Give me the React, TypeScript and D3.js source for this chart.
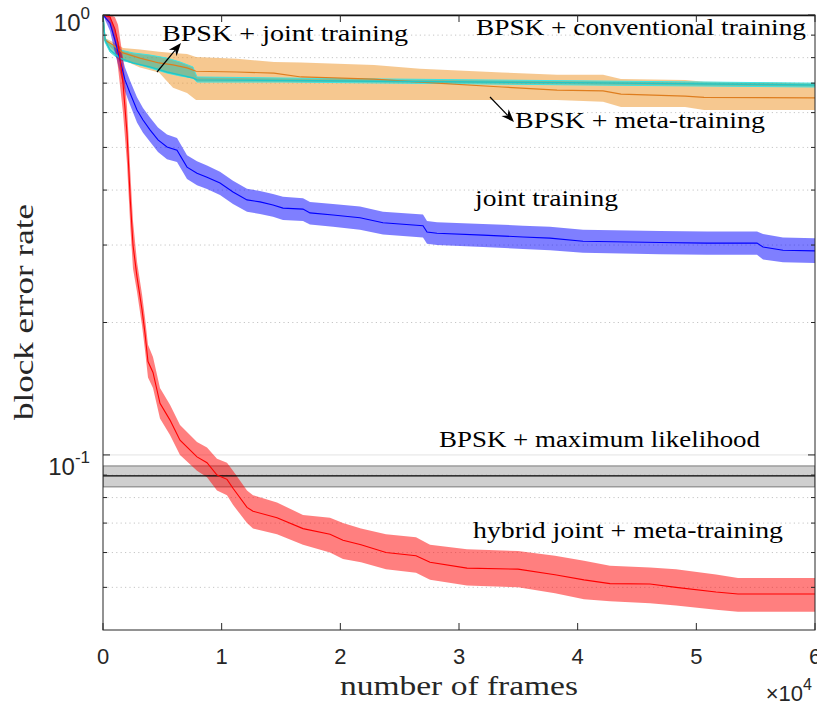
import * as d3 from 'd3'

// frames axis ticks
const xTicks = [0, 10000, 20000, 30000, 40000, 50000, 60000]
const xTickLabels = ['0', '1', '2', '3', '4', '5', '6']
const yMajor = [1, 0.1]
const yMinor = [0.9, 0.8, 0.7, 0.6, 0.5, 0.4, 0.3, 0.2, 0.09, 0.08, 0.07, 0.06, 0.05]

// hybrid joint + meta-training (red)
const hybridFrames = [0, 590, 1000, 1264, 1685, 2022, 2300, 2528, 2865, 3287, 3539, 3792, 4213, 4803, 5646, 6489, 7921, 8764, 9607, 10449, 10955, 12135, 12640, 14663, 16854, 19129, 20225, 21742, 23848, 26377, 27557, 30674, 34972, 38090, 40534, 42725, 46096, 48287, 51658, 53512, 60000]
const hybridMed = [1.0, 0.99, 0.93, 0.864, 0.70, 0.539, 0.38, 0.30, 0.254, 0.214, 0.189, 0.163, 0.154, 0.131, 0.120, 0.108, 0.099, 0.096, 0.090, 0.088, 0.084, 0.076, 0.0745, 0.072, 0.068, 0.066, 0.064, 0.0625, 0.060, 0.059, 0.057, 0.0553, 0.055, 0.0534, 0.052, 0.051, 0.0509, 0.050, 0.0488, 0.0483, 0.0483]
const hybridHi = [1.0, 1.0, 0.99, 0.95, 0.80, 0.62, 0.44, 0.34, 0.275, 0.232, 0.205, 0.178, 0.167, 0.142, 0.130, 0.117, 0.107, 0.104, 0.098, 0.096, 0.092, 0.083, 0.081, 0.078, 0.073, 0.072, 0.070, 0.068, 0.066, 0.065, 0.0625, 0.061, 0.0605, 0.059, 0.0575, 0.056, 0.0555, 0.055, 0.0535, 0.0525, 0.0525]
const hybridLo = [1.0, 0.95, 0.86, 0.76, 0.60, 0.46, 0.33, 0.265, 0.235, 0.197, 0.173, 0.150, 0.142, 0.121, 0.111, 0.100, 0.092, 0.089, 0.083, 0.081, 0.077, 0.070, 0.068, 0.066, 0.0625, 0.060, 0.058, 0.057, 0.055, 0.054, 0.052, 0.0505, 0.050, 0.0485, 0.047, 0.0465, 0.046, 0.0455, 0.0445, 0.044, 0.044]

// joint training (blue)
const jointFrames = [0, 590, 1011, 1433, 1854, 2275, 2865, 3371, 3961, 4635, 5393, 6236, 7079, 7921, 8764, 9860, 10955, 12135, 13230, 14326, 15169, 16854, 17444, 19382, 21657, 23596, 26966, 27304, 28146, 32023, 35393, 37669, 40450, 46939, 50900, 55113, 55619, 57304, 60000]
const jointMed = [1.0, 0.959, 0.877, 0.790, 0.712, 0.665, 0.608, 0.577, 0.548, 0.520, 0.501, 0.493, 0.451, 0.437, 0.428, 0.415, 0.396, 0.380, 0.376, 0.370, 0.364, 0.362, 0.355, 0.351, 0.346, 0.337, 0.332, 0.321, 0.319, 0.316, 0.313, 0.311, 0.306, 0.304, 0.303, 0.303, 0.297, 0.292, 0.291]
const jointHi = [1.0, 0.99, 0.93, 0.84, 0.76, 0.71, 0.65, 0.615, 0.585, 0.555, 0.535, 0.525, 0.48, 0.465, 0.455, 0.44, 0.42, 0.403, 0.398, 0.392, 0.386, 0.383, 0.376, 0.372, 0.367, 0.357, 0.352, 0.34, 0.338, 0.335, 0.332, 0.33, 0.325, 0.323, 0.322, 0.322, 0.318, 0.312, 0.311]
const jointLo = [1.0, 0.92, 0.82, 0.74, 0.67, 0.625, 0.57, 0.54, 0.515, 0.488, 0.47, 0.463, 0.424, 0.41, 0.402, 0.39, 0.372, 0.357, 0.353, 0.348, 0.342, 0.34, 0.334, 0.33, 0.325, 0.317, 0.312, 0.302, 0.30, 0.297, 0.294, 0.292, 0.288, 0.286, 0.285, 0.285, 0.278, 0.274, 0.273]

// BPSK + meta-training (orange)
const metaFrames = [0, 170, 840, 1690, 3120, 4720, 5900, 7080, 7840, 11290, 14410, 16690, 22840, 26710, 33620, 38260, 42140, 43650, 49050, 50650, 60000]
const metaMed = [1.0, 0.877, 0.855, 0.820, 0.798, 0.778, 0.770, 0.758, 0.745, 0.742, 0.738, 0.723, 0.715, 0.704, 0.686, 0.675, 0.672, 0.661, 0.654, 0.650, 0.648]
const metaHi = [1.0, 0.887, 0.868, 0.841, 0.835, 0.825, 0.820, 0.815, 0.803, 0.795, 0.782, 0.780, 0.770, 0.755, 0.740, 0.731, 0.731, 0.715, 0.712, 0.705, 0.700]
const metaLo = [1.0, 0.868, 0.835, 0.790, 0.760, 0.740, 0.683, 0.665, 0.641, 0.641, 0.641, 0.641, 0.641, 0.641, 0.641, 0.641, 0.635, 0.618, 0.618, 0.608, 0.608]

// BPSK + joint training (cyan)
const bpskJointFrames = [0, 170, 590, 1430, 2530, 3960, 5390, 6490, 7580, 7920, 15170, 41380, 60000]
const bpskJointMed = [1.0, 0.877, 0.833, 0.798, 0.778, 0.762, 0.742, 0.731, 0.719, 0.712, 0.710, 0.701, 0.693]
const bpskJointHi = [1.0, 0.887, 0.859, 0.833, 0.820, 0.811, 0.798, 0.782, 0.762, 0.723, 0.719, 0.708, 0.700]
const bpskJointLo = [1.0, 0.868, 0.824, 0.790, 0.778, 0.758, 0.738, 0.727, 0.719, 0.704, 0.704, 0.693, 0.686]

// BPSK + maximum likelihood (constant) and conventional training
const mlFrames = [0, 60000]
const mlMed = [0.0896, 0.0896]
const mlHi = [0.0944, 0.0944]
const mlLo = [0.0846, 0.0846]
const convFrames = [0, 60000]
const convMed = [0.998, 0.998]

type Pt = { f: number; v: number; lo: number; hi: number }

function zip(frames: number[], med: number[], lo?: number[], hi?: number[]): Pt[] {
  return frames.map((f, i) => ({ f, v: med[i], lo: lo ? lo[i] : med[i], hi: hi ? hi[i] : med[i] }))
}

const serif = '"Liberation Serif", "DejaVu Serif", serif'
const sans = '"Liberation Sans Narrow", "Liberation Sans", Arial, sans-serif'

function Arrow({ x1, y1, x2, y2 }: { x1: number; y1: number; x2: number; y2: number }) {
  const a = Math.atan2(y2 - y1, x2 - x1)
  const len = 13
  const w = 5
  const bx = x2 - len * Math.cos(a)
  const by = y2 - len * Math.sin(a)
  const nx = x2 - len * 0.7 * Math.cos(a)
  const ny = y2 - len * 0.7 * Math.sin(a)
  const px = -Math.sin(a) * w
  const py = Math.cos(a) * w
  const head = `M${x2},${y2} L${bx + px},${by + py} L${nx},${ny} L${bx - px},${by - py} Z`
  return (
    <g>
      <line x1={x1} y1={y1} x2={nx} y2={ny} stroke="#000" strokeWidth={1.2} />
      <path d={head} fill="#000" />
    </g>
  )
}

export default function App() {
  const left = 103
  const right = 815
  const top = 15
  const bottom = 630

  const x = d3.scaleLinear().domain([0, 60000]).range([left, right])
  const y = d3.scaleLog().domain([0.04, 1]).range([bottom, top])

  const band = d3.area<Pt>()
    .x(d => x(d.f))
    .y0(d => y(d.lo))
    .y1(d => y(d.hi))
  const line = d3.line<Pt>()
    .x(d => x(d.f))
    .y(d => y(d.v))

  const hybrid = zip(hybridFrames, hybridMed, hybridLo, hybridHi)
  const joint = zip(jointFrames, jointMed, jointLo, jointHi)
  const meta = zip(metaFrames, metaMed, metaLo, metaHi)
  const bpskJoint = zip(bpskJointFrames, bpskJointMed, bpskJointLo, bpskJointHi)
  const ml = zip(mlFrames, mlMed, mlLo, mlHi)
  const conv = zip(convFrames, convMed)

  const axisColor = '#262626'

  return (
    <svg width={817} height={705} style={{ position: 'absolute', left: 0, top: 0, background: '#fff' }}>
      <defs>
        <clipPath id="plot">
          <rect x={left} y={top} width={right - left} height={bottom - top} />
        </clipPath>
      </defs>

      {/* grid */}
      {yMinor.map(v => (
        <line key={'g' + v} x1={left} x2={right} y1={y(v)} y2={y(v)}
          stroke="#b8b8b8" strokeWidth={0.8} strokeDasharray="1.2 3.2" />
      ))}
      {yMajor.map(v => (
        <line key={'G' + v} x1={left} x2={right} y1={y(v)} y2={y(v)} stroke="#e3e3e3" strokeWidth={1} />
      ))}

      <g clipPath="url(#plot)">
        <path d={band(ml) ?? ''} fill="#a8a8a8" fillOpacity={0.55} stroke="#7a7a7a" strokeWidth={1} />
        <path d={band(meta) ?? ''} fill="#ed9121" fillOpacity={0.5} stroke="none" />
        <path d={band(bpskJoint) ?? ''} fill="#1fb5a0" fillOpacity={0.55} stroke="#3fe3e3" strokeWidth={1} />
        <path d={band(joint) ?? ''} fill="#0000ff" fillOpacity={0.5} stroke="none" />
        <path d={band(hybrid) ?? ''} fill="#ff0000" fillOpacity={0.5} stroke="none" />

        <path d={line(ml) ?? ''} fill="none" stroke="#000" strokeWidth={1.2} />
        <path d={line(conv) ?? ''} fill="none" stroke="#000" strokeWidth={1.5} />
        <path d={line(meta) ?? ''} fill="none" stroke="#de7d1e" strokeWidth={1.2} />
        <path d={line(bpskJoint) ?? ''} fill="none" stroke="#20c8c8" strokeWidth={1.4} />
        <path d={line(joint) ?? ''} fill="none" stroke="#0000ff" strokeWidth={1.1} />
        <path d={line(hybrid) ?? ''} fill="none" stroke="#ff0000" strokeWidth={1.1} />
      </g>

      {/* box */}
      <rect x={left} y={top} width={right - left} height={bottom - top} fill="none" stroke={axisColor} strokeWidth={1} />

      {/* x ticks */}
      {xTicks.map((t, i) => (
        <g key={'x' + t}>
          <line x1={x(t)} x2={x(t)} y1={bottom} y2={bottom - 7} stroke={axisColor} />
          <line x1={x(t)} x2={x(t)} y1={top} y2={top + 7} stroke={axisColor} />
          <text x={x(t)} y={664} textAnchor="middle" fontFamily={sans} fontSize={22} fill="#262626">
            {xTickLabels[i]}
          </text>
        </g>
      ))}
      <text x={812} y={701} textAnchor="end" fontFamily={sans} fontSize={22} fill="#262626">
        ×10<tspan dy={-11} fontSize={16}>4</tspan>
      </text>

      {/* y ticks */}
      {yMajor.map(v => (
        <g key={'ym' + v}>
          <line x1={left} x2={left + 7} y1={y(v)} y2={y(v)} stroke={axisColor} />
          <line x1={right} x2={right - 7} y1={y(v)} y2={y(v)} stroke={axisColor} />
        </g>
      ))}
      {yMinor.map(v => (
        <g key={'yn' + v}>
          <line x1={left} x2={left + 4} y1={y(v)} y2={y(v)} stroke={axisColor} />
          <line x1={right} x2={right - 4} y1={y(v)} y2={y(v)} stroke={axisColor} />
        </g>
      ))}
      <text x={90} y={y(1) + 16} textAnchor="end" fontFamily={sans} fontSize={24} fill="#262626">
        10<tspan dy={-12} fontSize={17}>0</tspan>
      </text>
      <text x={90} y={y(0.1) + 20} textAnchor="end" fontFamily={sans} fontSize={24} fill="#262626">
        10<tspan dy={-12} fontSize={17}>-1</tspan>
      </text>

      {/* axis labels */}
      <text x={340} y={695} fontFamily={serif} fontSize={27} textLength={238} lengthAdjust="spacingAndGlyphs" fill="#262626">
        number of frames
      </text>
      <text transform="translate(33,420) rotate(-90)" fontFamily={serif} fontSize={28} textLength={216} lengthAdjust="spacingAndGlyphs" fill="#262626">
        block error rate
      </text>

      {/* annotations */}
      <text x={162} y={41} fontFamily={serif} fontSize={24} textLength={246} lengthAdjust="spacingAndGlyphs">BPSK + joint training</text>
      <text x={476} y={35} fontFamily={serif} fontSize={24} textLength={330} lengthAdjust="spacingAndGlyphs">BPSK + conventional training</text>
      <text x={515} y={128} fontFamily={serif} fontSize={24} textLength={250} lengthAdjust="spacingAndGlyphs">BPSK + meta-training</text>
      <text x={475} y={206} fontFamily={serif} fontSize={24} textLength={143} lengthAdjust="spacingAndGlyphs">joint training</text>
      <text x={439} y={447} fontFamily={serif} fontSize={24} textLength={321} lengthAdjust="spacingAndGlyphs">BPSK + maximum likelihood</text>
      <text x={473} y={538} fontFamily={serif} fontSize={24} textLength={310} lengthAdjust="spacingAndGlyphs">hybrid joint + meta-training</text>

      <Arrow x1={157} y1={72} x2={181} y2={43} />
      <Arrow x1={490} y1={97} x2={514} y2={122} />
    </svg>
  )
}
